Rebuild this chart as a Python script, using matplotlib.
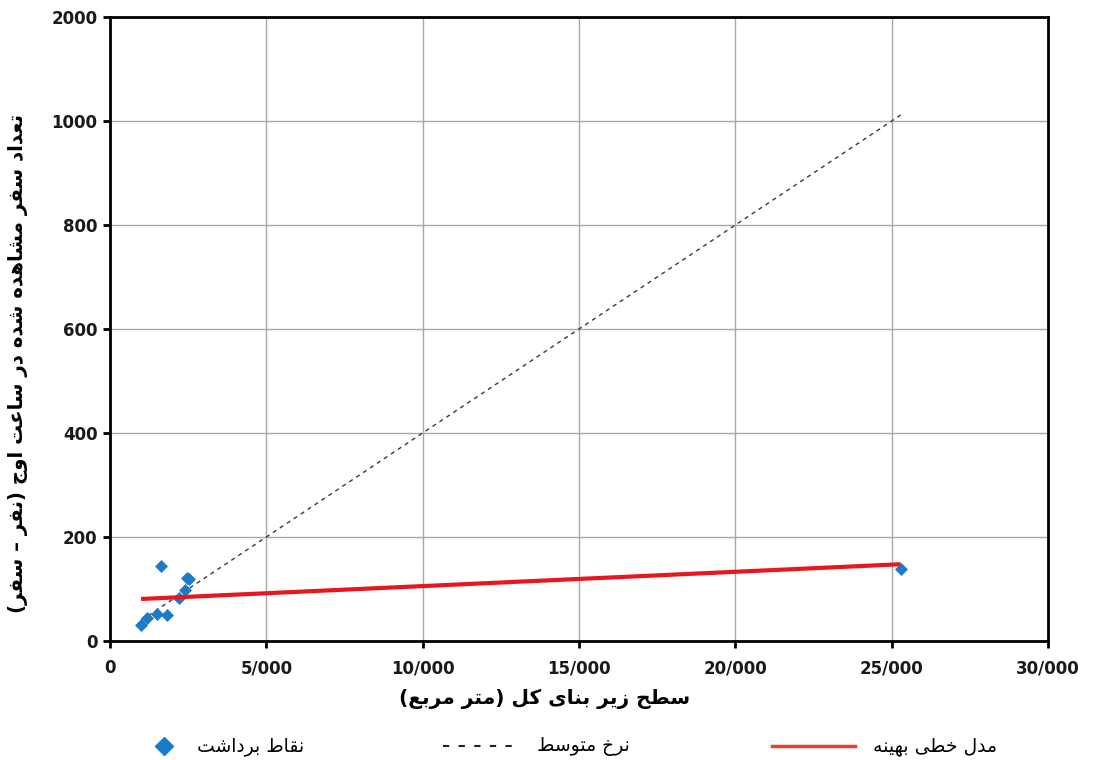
import matplotlib.pyplot as plt
from matplotlib.lines import Line2D

# survey points: total floor area (m2) vs peak-hour observed trips
area = [994, 1196, 1497, 1635, 1817, 2221, 2404, 2458, 2522, 25288]
trips = [30, 44, 52, 144, 50, 83, 99, 122, 119, 139]

# average rate (trips per m2) and best linear fit
avg_rate = 0.04
fit_a = 78.1
fit_b = 0.00275

x_ticks = [0, 5000, 10000, 15000, 20000, 25000, 30000]
x_tick_labels = ['0', '5/000', '10/000', '15/000', '20/000', '25/000', '30/000']
y_ticks = [0, 200, 400, 600, 800, 1000, 1200]
y_tick_labels = ['0', '200', '400', '600', '800', '1000', '2000']

x_title = 'سطح زیر بنای کل (متر مربع)'
y_title = 'تعداد سفر مشاهده شده در ساعت اوج (نفر – سفر)'
legend_names = ['نقاط برداشت', 'نرخ متوسط', 'مدل خطی بهینه']

# presentation forms: isolated, final, initial, medial
FORMS = {
    'ا': ('\uFE8D', '\uFE8E', None, None),
    'ب': ('\uFE8F', '\uFE90', '\uFE91', '\uFE92'),
    'ت': ('\uFE95', '\uFE96', '\uFE97', '\uFE98'),
    'ج': ('\uFE9D', '\uFE9E', '\uFE9F', '\uFEA0'),
    'ح': ('\uFEA1', '\uFEA2', '\uFEA3', '\uFEA4'),
    'خ': ('\uFEA5', '\uFEA6', '\uFEA7', '\uFEA8'),
    'د': ('\uFEA9', '\uFEAA', None, None),
    'ر': ('\uFEAD', '\uFEAE', None, None),
    'ز': ('\uFEAF', '\uFEB0', None, None),
    'س': ('\uFEB1', '\uFEB2', '\uFEB3', '\uFEB4'),
    'ش': ('\uFEB5', '\uFEB6', '\uFEB7', '\uFEB8'),
    'ط': ('\uFEC1', '\uFEC2', '\uFEC3', '\uFEC4'),
    'ع': ('\uFEC9', '\uFECA', '\uFECB', '\uFECC'),
    'ف': ('\uFED1', '\uFED2', '\uFED3', '\uFED4'),
    'ق': ('\uFED5', '\uFED6', '\uFED7', '\uFED8'),
    'ک': ('\uFB8E', '\uFB8F', '\uFB90', '\uFB91'),
    'ل': ('\uFEDD', '\uFEDE', '\uFEDF', '\uFEE0'),
    'م': ('\uFEE1', '\uFEE2', '\uFEE3', '\uFEE4'),
    'ن': ('\uFEE5', '\uFEE6', '\uFEE7', '\uFEE8'),
    'ه': ('\uFEE9', '\uFEEA', '\uFEEB', '\uFEEC'),
    'و': ('\uFEED', '\uFEEE', None, None),
    'ی': ('\uFBFC', '\uFBFD', '\uFBFE', '\uFBFF'),
}


def fa(text):
    '''join persian letters and flip to visual order'''
    out = []
    for i, c in enumerate(text):
        if c not in FORMS:
            out.append(c)
            continue
        iso, fin, ini, med = FORMS[c]
        prev = text[i - 1] if i > 0 else ''
        nxt = text[i + 1] if i + 1 < len(text) else ''
        join_prev = prev in FORMS and FORMS[prev][2] is not None
        join_next = nxt in FORMS and ini is not None
        if join_prev and join_next:
            out.append(med)
        elif join_prev:
            out.append(fin)
        elif join_next:
            out.append(ini)
        else:
            out.append(iso)
    return ''.join(out)[::-1].translate(str.maketrans('()', ')('))


plt.rcParams['font.family'] = ['DejaVu Sans']

fig = plt.figure(figsize=(11.07, 7.6), dpi=100)
ax = fig.add_axes([110 / 1107, 1 - 641 / 760, 938 / 1107, 624 / 760])

blue = '#1b7bc6'
red = '#e8161f'
dash_col = '#3a3a3a'

ax.plot(area, trips, linestyle='none', marker='D', ms=6.5, color=blue,
        mec=blue, mew=0.5, zorder=3)

x0, x1 = min(area), max(area)
ax.plot([x0, x1], [avg_rate * x0, avg_rate * x1], color=dash_col, lw=1,
        dashes=(3, 3), zorder=2)
ax.plot([x0, x1], [fit_a + fit_b * x0, fit_a + fit_b * x1], color=red,
        lw=3, zorder=4, solid_capstyle='butt')

ax.set_xlim(0, 30000)
ax.set_ylim(0, 1200)
ax.set_xticks(x_ticks)
ax.set_xticklabels(x_tick_labels)
ax.set_yticks(y_ticks)
ax.set_yticklabels(y_tick_labels)
ax.grid(True, color='#a8a8a8', lw=1)
ax.set_axisbelow(True)
for s in ax.spines.values():
    s.set_linewidth(2)
    s.set_color('black')
ax.tick_params(direction='out', length=5, width=2, labelsize=12)
ax.tick_params(axis='x', pad=8)
ax.tick_params(axis='y', pad=4)
for lab in ax.get_xticklabels() + ax.get_yticklabels():
    lab.set_fontweight('bold')
    lab.set_color('#1a1a1a')

ax.set_xlabel(fa(x_title), fontsize=14.5, fontweight='bold')
ax.xaxis.set_label_coords(0.463, -0.076)
ax.set_ylabel(fa(y_title), fontsize=14.2, fontweight='bold')
ax.yaxis.set_label_coords(-0.0874, 0.4455)


def px(x, y):
    return x / 1107, 1 - y / 760


# legend row under the axes
ly = 746
fig.add_artist(Line2D([px(164, 0)[0]], [px(0, ly)[1]], marker='D', ms=9,
                      color=blue, linestyle='none'))
fig.text(*px(197, ly), fa(legend_names[0]), fontsize=13.5, va='center')
fig.add_artist(Line2D([px(443, 0)[0], px(515, 0)[0]], [px(0, ly)[1]] * 2,
                      color='#222222', lw=1.5, dashes=(3, 4.5)))
fig.text(*px(537, ly), fa(legend_names[1]), fontsize=13.5, va='center')
fig.add_artist(Line2D([px(772, 0)[0], px(855, 0)[0]], [px(0, ly)[1]] * 2,
                      color='#e8402a', lw=2.5))
fig.text(*px(873, ly), fa(legend_names[2]), fontsize=13.5, va='center')

plt.savefig('out.png', dpi=100)
